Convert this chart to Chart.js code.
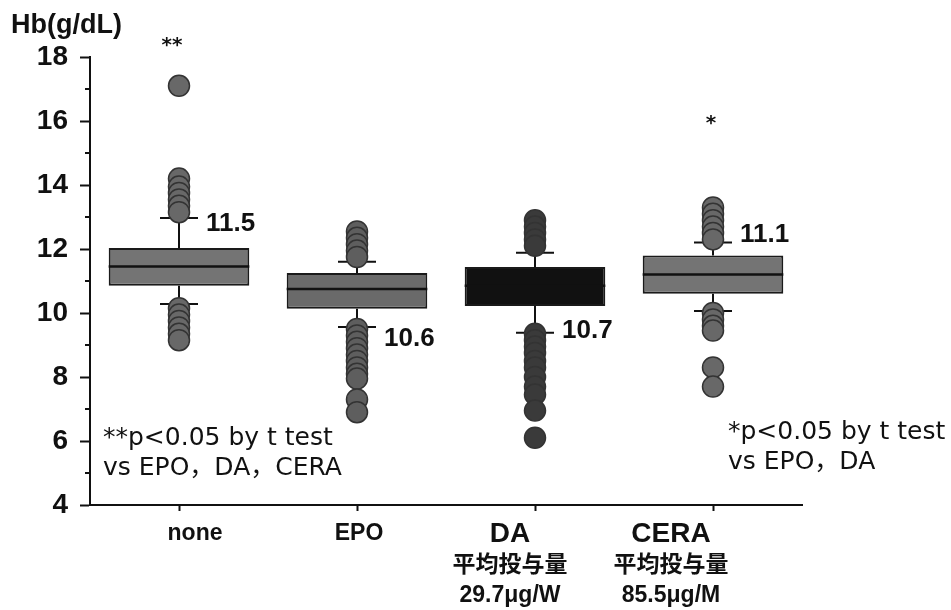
<!DOCTYPE html>
<html>
<head>
<meta charset="utf-8">
<script src="https://cdn.jsdelivr.net/npm/chart.js@4.4.1/dist/chart.umd.min.js"></script>
<style>
  html, body { margin: 0; background: #fff; }
  #wrap { width: 951px; height: 610px; }
</style>
</head>
<body>
<div id="wrap"><canvas id="chart" width="951" height="610"></canvas></div>
<script>
// Hb 分布（箱ひげ図）: 値は図から読み取り
const categories  = ['none', 'EPO', 'DA', 'CERA'];
const xLabelLines = [['none'], ['EPO'], ['DA', '平均投与量', '29.7μg/W'], ['CERA', '平均投与量', '85.5μg/M']];
const q1          = [10.85, 10.13, 10.22, 10.60];
const median      = [11.45, 10.75, 10.85, 11.20];
const q3          = [12.03, 11.25, 11.44, 11.80];
const whiskerLow  = [10.28, 9.56, 9.38, 10.06];
const whiskerHigh = [12.97, 11.60, 11.88, 12.20];
const meanLabels  = ['11.5', '10.6', '10.7', '11.1'];
const yTicks      = [4, 6, 8, 10, 12, 14, 16, 18];

const outliersNone = [17.1, 14.2, 13.95, 13.75, 13.55, 13.35, 13.15, 10.15, 9.95, 9.75, 9.55, 9.35, 9.15];
const outliersEPO  = [12.55, 12.35, 12.15, 11.95, 11.75, 9.5, 9.3, 9.1, 8.9, 8.7, 8.5, 8.3, 8.1, 7.95, 7.3, 6.9];
const outliersDA   = [12.9, 12.7, 12.5, 12.3, 12.1, 9.35, 9.15, 8.95, 8.75, 8.5, 8.3, 8.0, 7.7, 7.45, 6.95, 6.1];
const outliersCERA = [13.3, 13.1, 12.9, 12.7, 12.5, 12.3, 10.0, 9.8, 9.6, 9.45, 8.3, 7.7];

const outlierGroups = [outliersNone, outliersEPO, outliersDA, outliersCERA];
const boxColors = ['#747474', '#6a6a6a', '#111111', '#747474'];
const dotColors = ['#686868', '#5e5e5e', '#3a3a3a', '#686868'];
const INK = '#111';

const boxExtras = {
    id: 'boxExtras',
    beforeDatasetsDraw(chart) {
        const { ctx, scales: { x, y } } = chart;
        ctx.save();
        ctx.strokeStyle = INK;
        ctx.lineWidth = 2;
        categories.forEach((c, i) => {
            const cx = x.getPixelForValue(i);
            ctx.beginPath();
            ctx.moveTo(cx, y.getPixelForValue(q3[i]));
            ctx.lineTo(cx, y.getPixelForValue(whiskerHigh[i]));
            ctx.moveTo(cx, y.getPixelForValue(q1[i]));
            ctx.lineTo(cx, y.getPixelForValue(whiskerLow[i]));
            [whiskerHigh[i], whiskerLow[i]].forEach((v) => {
                const py = y.getPixelForValue(v);
                ctx.moveTo(cx - 19, py);
                ctx.lineTo(cx + 19, py);
            });
            ctx.stroke();
        });
        ctx.restore();
    },
    afterDatasetDraw(chart, args) {
        if (args.index !== 0) return;
        const { ctx, scales: { y } } = chart;
        const meta = chart.getDatasetMeta(0);
        ctx.save();
        ctx.strokeStyle = INK;
        ctx.lineWidth = 2.5;
        meta.data.forEach((bar, i) => {
            const py = y.getPixelForValue(median[i]);
            ctx.beginPath();
            ctx.moveTo(bar.x - bar.width / 2, py);
            ctx.lineTo(bar.x + bar.width / 2, py);
            ctx.stroke();
        });
        ctx.restore();
    },
    afterDraw(chart, args, opts) {
        const { ctx, scales: { x, y } } = chart;
        ctx.save();
        ctx.fillStyle = INK;
        ctx.strokeStyle = INK;

        // minor ticks
        ctx.lineWidth = 2;
        ctx.beginPath();
        for (let v = 5; v < 18; v += 2) {
            const py = y.getPixelForValue(v);
            ctx.moveTo(x.left - 5, py);
            ctx.lineTo(x.left, py);
        }
        ctx.stroke();

        // axis title
        ctx.font = 'bold 27px "Liberation Sans", Arial, sans-serif';
        ctx.textAlign = 'left';
        ctx.textBaseline = 'middle';
        ctx.fillText('Hb(g/dL)', 11, 26);

        // mean labels
        ctx.font = 'bold 26px "Liberation Sans", Arial, sans-serif';
        opts.meanAt.forEach((v, i) => {
            ctx.fillText(meanLabels[i], x.getPixelForValue(i) + 27, y.getPixelForValue(v));
        });

        // x labels
        ctx.textAlign = 'center';
        const lineY = [534, 566, 596];
        xLabelLines.forEach((lines, i) => {
            const cx = x.getPixelForValue(i) + opts.labelShift[i];
            lines.forEach((t, k) => {
                if (k === 0) {
                    ctx.font = (lines.length > 1 ? 'bold 28px' : 'bold 23px') + ' "Liberation Sans", Arial, sans-serif';
                } else {
                    ctx.font = 'bold 23px "Liberation Sans", "Noto Sans CJK JP", sans-serif';
                }
                ctx.fillText(t, cx, lineY[k]);
            });
        });

        // significance marks
        ctx.font = 'bold 20px "DejaVu Sans", sans-serif';
        opts.stars.forEach((s) => {
            ctx.fillText(s.text, x.getPixelForValue(s.cat) + s.dx, y.getPixelForValue(s.y));
        });

        // notes
        ctx.textAlign = 'left';
        ctx.font = '25px "DejaVu Sans", "Noto Sans CJK JP", sans-serif';
        opts.notes.forEach((n) => ctx.fillText(n.text, n.x, n.y));
        ctx.restore();
    },
};

new Chart(document.getElementById('chart'), {
    data: {
        labels: categories,
        datasets: [
            {
                type: 'bar',
                data: categories.map((c, i) => [q1[i], q3[i]]),
                backgroundColor: boxColors,
                borderColor: '#1a1a1a',
                borderWidth: 2,
                borderSkipped: false,
                barPercentage: 0.79,
                categoryPercentage: 1,
                order: 2,
            },
            ...outlierGroups.map((vals, i) => ({
                type: 'line',
                data: vals.map((v) => ({ x: categories[i], y: v })),
                showLine: false,
                pointRadius: 10.5,
                pointBackgroundColor: dotColors[i],
                pointBorderColor: '#333',
                pointBorderWidth: 1.5,
                order: 1,
            })),
        ],
    },
    options: {
        responsive: false,
        animation: false,
        layout: { padding: { top: 57, right: 149, left: 0, bottom: 0 } },
        plugins: {
            legend: { display: false },
            tooltip: { enabled: false },
            boxExtras: {
                meanAt: [12.8, 9.2, 9.45, 12.45],
                labelShift: [16, 2, -25, -42],
                stars: [
                    { text: '**', cat: 0, dx: -7, y: 18.35 },
                    { text: '*', cat: 3, dx: -2, y: 15.9 },
                ],
                notes: [
                    { text: '**p<0.05 by t test', x: 103, y: 438 },
                    { text: 'vs EPO，DA，CERA', x: 103, y: 468 },
                    { text: '*p<0.05 by t test', x: 728, y: 432 },
                    { text: 'vs EPO，DA', x: 728, y: 462 },
                ],
            },
        },
        scales: {
            x: {
                type: 'category',
                offset: true,
                afterFit: (s) => { s.height = 105; },
                ticks: { display: false },
                grid: { offset: false, drawOnChartArea: false, tickLength: 6, tickWidth: 2, tickColor: INK },
                border: { color: INK, width: 2 },
            },
            y: {
                min: 4,
                max: 18,
                afterFit: (s) => { s.width = 90; },
                afterBuildTicks: (s) => { s.ticks = yTicks.map((v) => ({ value: v })); },
                ticks: {
                    padding: 12,
                    color: INK,
                    font: { family: '"Liberation Sans", Arial, sans-serif', size: 28, weight: 'bold' },
                },
                grid: { drawOnChartArea: false, tickLength: 10, tickWidth: 2, tickColor: INK },
                border: { color: INK, width: 2 },
            },
        },
    },
    plugins: [boxExtras],
});
</script>
</body>
</html>
